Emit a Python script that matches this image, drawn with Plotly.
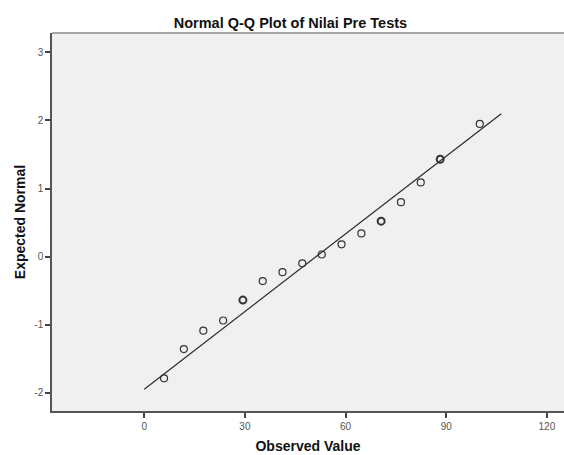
import plotly.graph_objects as go

# Observed values (x) and expected normal quantiles (y)
observed = [5.9, 11.8, 17.6, 23.5, 29.4, 35.3, 41.2, 47.1, 52.9, 58.8,
            64.7, 70.6, 76.5, 82.4, 88.2, 100.0]
expected = [-1.79, -1.36, -1.09, -0.94, -0.64, -0.36, -0.23, -0.10, 0.03, 0.18,
            0.34, 0.52, 0.80, 1.09, 1.43, 1.95]
ties = [1, 1, 1, 1, 2, 1, 1, 1, 1, 1, 1, 2, 1, 1, 2, 1]

# Reference line endpoints
line_x = [0, 106.4]
line_y = [-1.95, 2.10]

x_ticks = [0, 30, 60, 90, 120]
y_ticks = [-2, -1, 0, 1, 2, 3]

fig = go.Figure()
fig.add_trace(go.Scatter(
    x=line_x, y=line_y, mode="lines",
    line=dict(color="#2a2a2a", width=1.2),
    hoverinfo="skip", showlegend=False,
))
fig.add_trace(go.Scatter(
    x=observed, y=expected, mode="markers",
    marker=dict(symbol="circle-open", size=7, color="#333333",
                line=dict(color="#333333", width=[1.2 if t == 1 else 2.0 for t in ties])),
    showlegend=False,
))

fig.update_layout(
    width=564, height=455,
    margin=dict(l=52, r=0, t=33, b=44),
    paper_bgcolor="white",
    plot_bgcolor="#f0f0f0",
    font=dict(family="Liberation Sans, Arial, sans-serif", color="#444444", size=10),
    title=dict(text="<b>Normal Q-Q Plot of Nilai Pre Tests</b>",
               x=0.515, xanchor="center", y=1 - 23 / 455, yanchor="middle",
               font=dict(size=14.5, color="#111111")),
    xaxis=dict(
        range=[-27.5, 125.1], tickvals=x_ticks, ticktext=[str(v) for v in x_ticks],
        showgrid=False, zeroline=False,
        showline=True, linecolor="#555555", linewidth=1.5,
        ticks="outside", ticklen=5, tickwidth=1.5, tickcolor="#444444",
        tickfont=dict(size=10, color="#555555"),
        title=dict(text="<b>Observed Value</b>", font=dict(size=14, color="#111111"), standoff=10),
    ),
    yaxis=dict(
        range=[-2.27, 3.286], tickvals=y_ticks, ticktext=[str(v) for v in y_ticks],
        showgrid=False, zeroline=False,
        showline=True, linecolor="#555555", linewidth=1.5,
        ticks="outside", ticklen=5, tickwidth=1.5, tickcolor="#444444",
        tickfont=dict(size=10, color="#555555"),
        title=dict(text="<b>Expected Normal</b>", font=dict(size=14, color="#111111"), standoff=5),
    ),
    shapes=[dict(type="line", xref="paper", yref="paper", x0=0, x1=1, y0=1, y1=1,
                 line=dict(color="#8a8a8a", width=1.5))],
)

fig.write_html("out.html")
